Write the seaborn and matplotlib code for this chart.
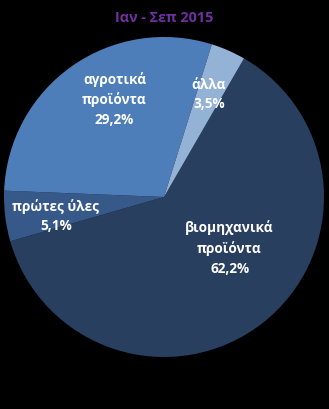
import matplotlib
matplotlib.use("Agg")
import matplotlib.pyplot as plt
import seaborn as sns
import numpy as np

title = "Ιαν - Σεπ 2015"
categories = ["βιομηχανικά\nπροϊόντα", "πρώτες ύλες", "αγροτικά\nπροϊόντα", "άλλα"]
values = [62.2, 5.1, 29.2, 3.5]
value_labels = ["62,2%", "5,1%", "29,2%", "3,5%"]

colors = ["#293F5F", "#36598A", "#4E7EBA", "#94B1D6"]
label_pos = [(0.41, -0.32), (-0.675, -0.12), (-0.31, 0.61), (0.28, 0.64)]

sns.set_theme(style="white")
plt.rcParams['font.family'] = ['Open Sans', 'DejaVu Sans']

W, H = 329, 409
fig = plt.figure(figsize=(W / 100, H / 100), dpi=100, facecolor="black")
cx, cy, r = 164, 197, 160
ax = fig.add_axes([(cx - r) / W, (H - cy - r) / H, 2 * r / W, 2 * r / H])
ax.set_facecolor("black")

wedges, _ = ax.pie(values, colors=colors, startangle=60, counterclock=False,
                   radius=1, wedgeprops=dict(linewidth=0))
ax.set_xlim(-1, 1)
ax.set_ylim(-1, 1)
ax.set_aspect("equal")
ax.axis("off")

for (x, y), cat, vl in zip(label_pos, categories, value_labels):
    ax.text(x, y, f"{cat}\n{vl}", ha="center", va="center", color="white",
            fontsize=9.8, fontweight="bold", linespacing=1.5)

fig.text(cx / W, 1 - 18 / H, title, ha="center", va="center", color="#7030A0",
         fontsize=10.4, fontweight="bold")

fig.savefig("out.png", dpi=100, facecolor="black")
